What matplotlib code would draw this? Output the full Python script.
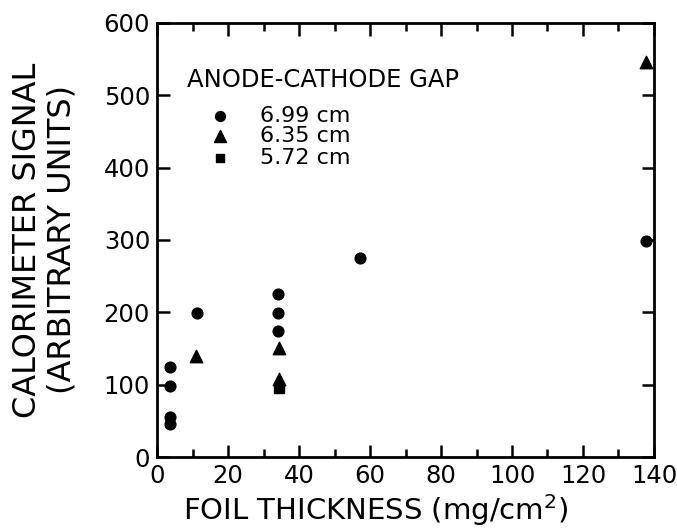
import numpy as np
import matplotlib.pyplot as plt
from matplotlib.ticker import MultipleLocator

# data: foil thickness (mg/cm^2) vs calorimeter signal
x_699 = [3.6, 3.6, 3.6, 3.6, 11.2, 34.1, 34.1, 34.1, 57.2, 137.8]
y_699 = [124, 98, 56, 45, 199, 225, 199, 174, 275, 298]
x_635 = [11.0, 34.3, 34.4, 137.8]
y_635 = [140, 151, 108, 546]
x_572 = [34.4]
y_572 = [95]

legend_labels = ["6.99 cm", "6.35 cm", "5.72 cm"]

plt.rcParams['font.family'] = 'DejaVu Sans'

fig = plt.figure(figsize=(6.77, 5.29), dpi=100)
ax = fig.add_axes([0.232, 0.136, 0.734, 0.821])

ax.scatter(x_699, y_699, marker='o', s=60, c='black', clip_on=False, zorder=3)
ax.scatter(x_635, y_635, marker='^', s=80, c='black', clip_on=False, zorder=3)
ax.scatter(x_572, y_572, marker='s', s=45, c='black', clip_on=False, zorder=3)

ax.set_xlim(0, 140)
ax.set_ylim(0, 600)
ax.xaxis.set_major_locator(MultipleLocator(20))
ax.xaxis.set_minor_locator(MultipleLocator(10))
ax.yaxis.set_major_locator(MultipleLocator(100))
ax.tick_params(which='both', direction='in', top=True, right=True, width=1.8)
ax.tick_params(which='major', length=9, labelsize=17.5, pad=5)
ax.tick_params(which='minor', length=6)
for s in ax.spines.values():
    s.set_linewidth(2)

ax.set_xlabel("FOIL THICKNESS (mg/cm$^2$)", fontsize=21)
ax.xaxis.set_label_coords(0.44, -0.08)
ax.set_ylabel("CALORIMETER SIGNAL\n(ARBITRARY UNITS)", fontsize=23, linespacing=1.15)
ax.yaxis.set_label_coords(-0.16, 0.5)

# hand-made legend block inside the axes
ax.text(8.5, 521, "ANODE-CATHODE GAP", fontsize=17.5, va='center', ha='left')
leg_y = [471, 444, 413]
markers = ['o', '^', 's']
sizes = [50, 75, 40]
for yy, m, sz, lab in zip(leg_y, markers, sizes, legend_labels):
    ax.scatter([17.7], [yy], marker=m, s=sz, c='black')
    ax.text(29.0, yy, lab, fontsize=16, va='center', ha='left')

fig.savefig("out.png", dpi=100)
